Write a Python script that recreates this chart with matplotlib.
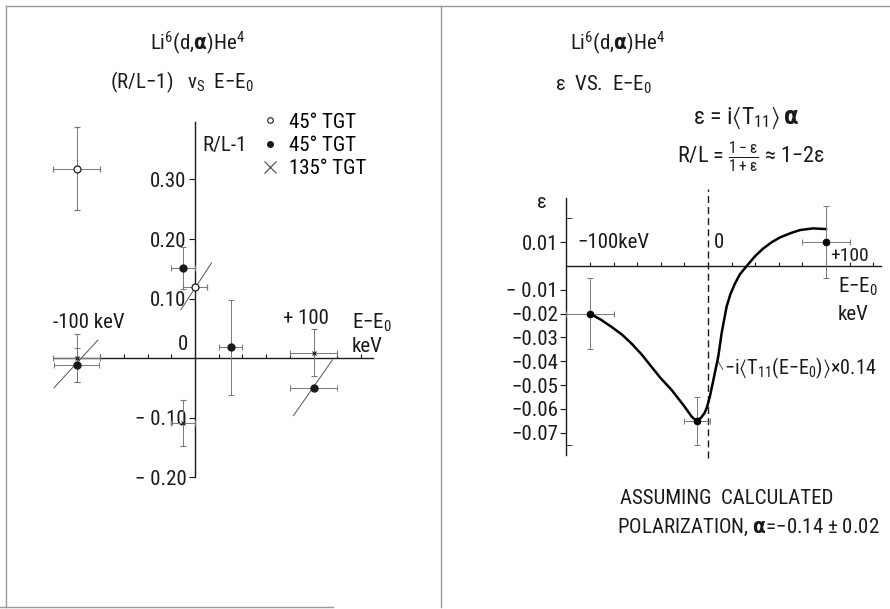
import numpy as np
import matplotlib.pyplot as plt
from matplotlib import font_manager
from matplotlib.lines import Line2D

# narrow lettering if a narrow face is around, else plain DejaVu
installed = {f.name for f in font_manager.fontManager.ttflist}
face = 'DejaVu Sans'
for name in ['Liberation Sans Narrow', 'DejaVu Sans Condensed', 'Roboto Condensed', 'Open Sans Condensed']:
    if name in installed:
        face = name
        break
plt.rcParams['font.family'] = [face, 'DejaVu Sans']
plt.rcParams['font.stretch'] = 'condensed'
plt.rcParams['mathtext.default'] = 'regular'

INK = '#1a1a1a'
BAR = '#777777'
FS = 15

# ---- left panel: R/L-1 vs E-E0 ----
open_E = [-100, 0]
open_R = [0.318, 0.12]
open_yerr = [0.07, 0.0]
open_xerr = [20, 10]

full_E = [-100, -10, 30, 100]
full_R = [-0.012, 0.151, 0.018, -0.05]
full_yerr = [0.028, 0.035, 0.08, 0.0]
full_xerr = [19, 10, 10, 20]

cross_E = [-100, -10, 100]
cross_R = [0.0, -0.109, 0.009]
cross_yerr = [0.04, 0.039, 0.039]
cross_xerr = [20, 10, 20]

# slanted guide strokes through the point groups
slant_E = [(-119, -82), (-12, 14), (83, 116)]
slant_R = [(-0.05, 0.03), (0.081, 0.16), (-0.097, -0.003)]

left_yticks = [0.30, 0.20, 0.10, -0.10, -0.20]
left_yticklabels = ['0.30', '0.20', '0.10', '\u2212 0.10', '\u2212 0.20']

# ---- right panel: epsilon vs E-E0 ----
eps_E = [-100, -9, 100]
eps_val = [-0.020, -0.065, 0.010]
eps_yerr = [0.015, 0.010, 0.015]
eps_xerr = [20, 11, 20]

curve_E = [-100, -91, -82, -73, -65, -56, -48, -40, -31, -25, -20, -14, -10, -6,
           -3, -1, 1.5, 4.5, 8.7, 11.6, 15.8, 19, 22.9, 27, 32.8, 40, 46.9, 54,
           61, 70, 78, 89, 100]
curve_eps = [-0.020, -0.0225, -0.0255, -0.0288, -0.0325, -0.0373, -0.0423, -0.0472,
             -0.052, -0.0558, -0.059, -0.0632, -0.065, -0.0638, -0.0618, -0.0595,
             -0.055, -0.048, -0.038, -0.028, -0.017, -0.0118, -0.0073, -0.0035,
             0.0, 0.0042, 0.0074, 0.0100, 0.012, 0.0138, 0.0151, 0.0158, 0.0155]

right_yticks = [0.01, -0.01, -0.02, -0.03, -0.04, -0.05, -0.06, -0.07]
right_yticklabels = ['0.01', '\u2212 0.01', '\u22120.02', '\u22120.03', '\u22120.04',
                     '\u22120.05', '\u22120.06', '\u22120.07']

W, H = 890, 609
fig = plt.figure(figsize=(W / 100, H / 100), dpi=100)


def fx(x):
    return x / W


def fy(y):
    return 1 - y / H


def put(x, y, s, size=FS, ha='left', va='center', **kw):
    fig.text(fx(x), fy(y), s, fontsize=size, ha=ha, va=va, color=INK, **kw)


def bare(ax):
    for side in ['top', 'right']:
        ax.spines[side].set_visible(False)
    for side in ['left', 'bottom']:
        ax.spines[side].set_color(INK)
        ax.spines[side].set_linewidth(1.0)
    ax.patch.set_alpha(0)


# left axes spans pixels x 40..380, y 100..490
axL = fig.add_axes([fx(40), fy(490), fx(340), 390 / H])
axL.set_xlim(-130.8, 156.1)
axL.set_ylim(-0.2218, 0.4336)
bare(axL)
axL.spines['left'].set_position(('data', 0))
axL.spines['left'].set_bounds(-0.20, 0.397)
axL.spines['bottom'].set_position(('data', 0))
axL.spines['bottom'].set_bounds(-119, 150)
axL.set_xticks(np.arange(-100, 141, 20))
axL.tick_params(axis='x', direction='in', length=3, labelbottom=False, color=INK)
axL.set_yticks(left_yticks)
axL.set_yticklabels(left_yticklabels)
axL.tick_params(axis='y', direction='out', length=4, width=0.8, pad=2,
                labelsize=FS, color=INK, labelcolor=INK)

ebar = dict(ecolor=BAR, elinewidth=0.7, capsize=2.5, capthick=0.7, linestyle='none')
axL.errorbar(open_E, open_R, yerr=open_yerr, xerr=open_xerr, marker='o', ms=5,
             mfc='white', mec=INK, mew=0.9, zorder=4, **ebar)
axL.errorbar(full_E, full_R, yerr=full_yerr, xerr=full_xerr, marker='o', ms=5,
             mfc=INK, mec=INK, zorder=4, **ebar)
axL.errorbar(cross_E, cross_R, yerr=cross_yerr, xerr=cross_xerr, marker='x', ms=3.5,
             mec=INK, mew=0.8, zorder=4, **ebar)
for e, r in zip(slant_E, slant_R):
    axL.plot(e, r, color='#555555', lw=0.7)

axL.legend(handles=[
    Line2D([], [], ls='none', marker='o', ms=4, mfc='white', mec=INK, mew=0.8, label='45° TGT'),
    Line2D([], [], ls='none', marker='o', ms=4, mfc=INK, mec=INK, label='45° TGT'),
    Line2D([], [], ls='none', marker='x', ms=8, mec='#444444', mew=0.8, label='135° TGT'),
], loc='upper right', bbox_to_anchor=(fx(385), fy(94)), bbox_transform=fig.transFigure,
    frameon=False, fontsize=FS, handlelength=0.8, handletextpad=0.5, labelspacing=0.2,
    markerfirst=True)

put(197, 43, r'Li$^6$(d,$\mathbf{\alpha}$)He$^4$', ha='center')
put(110, 82, r'(R/L$-$1)   v$_S$  E$-$E$_0$')
put(202, 145, 'R/L-1')
put(183, 345, '0', ha='center')
put(53, 322, '-100 keV')
put(283, 318, '+ 100')
put(352, 323, r'E$-$E$_0$')
put(352, 347, 'keV')

# right axes spans pixels x 540..885, y 180..470
axR = fig.add_axes([fx(540), fy(470), fx(345), 290 / H])
axR.set_xlim(-142.4, 150.0)
axR.set_ylim(-0.08571, 0.03613)
bare(axR)
axR.spines['left'].set_position(('data', -120))
axR.spines['left'].set_bounds(-0.0795, 0.0286)
axR.spines['bottom'].set_position(('data', 0))
axR.spines['bottom'].set_bounds(-120, 147)
axR.set_xticks(np.arange(-100, 141, 20))
axR.tick_params(axis='x', direction='in', length=3, labelbottom=False, color=INK)
axR.set_yticks(right_yticks)
axR.set_yticklabels(right_yticklabels)
axR.tick_params(axis='y', direction='out', length=4, width=0.8, pad=2,
                labelsize=FS, color=INK, labelcolor=INK)
axR.set_yticks([0.02, -0.075], minor=True)
axR.tick_params(axis='y', which='minor', direction='in', length=4, color=INK)

axR.axvline(0, ymin=0.04, ymax=0.97, color=INK, lw=1.0, ls=(0, (5, 3)))
axR.plot(curve_E, curve_eps, color='black', lw=1.8, zorder=3)
axR.errorbar(eps_E, eps_val, yerr=eps_yerr, xerr=eps_xerr, marker='o', ms=4.5,
             mfc='black', mec='black', zorder=4, **ebar)

put(617, 43, r'Li$^6$(d,$\mathbf{\alpha}$)He$^4$', ha='center')
put(555, 85, r'ε  VS.  E$-$E$_0$')
put(693, 118, r'ε = i$\langle$T$_{11}\rangle\,\mathbf{\alpha}$', size=17)
put(677, 157, r'R/L = $\frac{1-ε}{1+ε}$ ≈ 1$-$2ε', size=16)
put(542, 202, 'ε', ha='center')
put(577, 242, '\u2212100keV')
put(714, 242, '0')
put(830, 256, '+100', size=14)
put(838, 287, r'E$-$E$_0$')
put(838, 315, 'keV')
put(724, 368, r'$-$i$\langle$T$_{11}$(E$-$E$_0$)$\rangle$×0.14', size=14.5)
axR.plot([8.5, 12.5], [-0.040, -0.0435], color='#555555', lw=0.7)
put(620, 499, 'ASSUMING  CALCULATED')
put(617, 527, r'POLARIZATION, $\mathbf{\alpha}$=$-$0.14 ± 0.02')

# page border of the two panels
for xs, ys in [((6, 6), (6, 607)), ((441, 441), (6, 607)), ((6, 890), (6, 6)),
               ((0, 333), (607, 607))]:
    fig.add_artist(Line2D([fx(x) for x in xs], [fy(y) for y in ys],
                          color='#9a9a9a', lw=1.0))

fig.savefig('out.png', dpi=100)
